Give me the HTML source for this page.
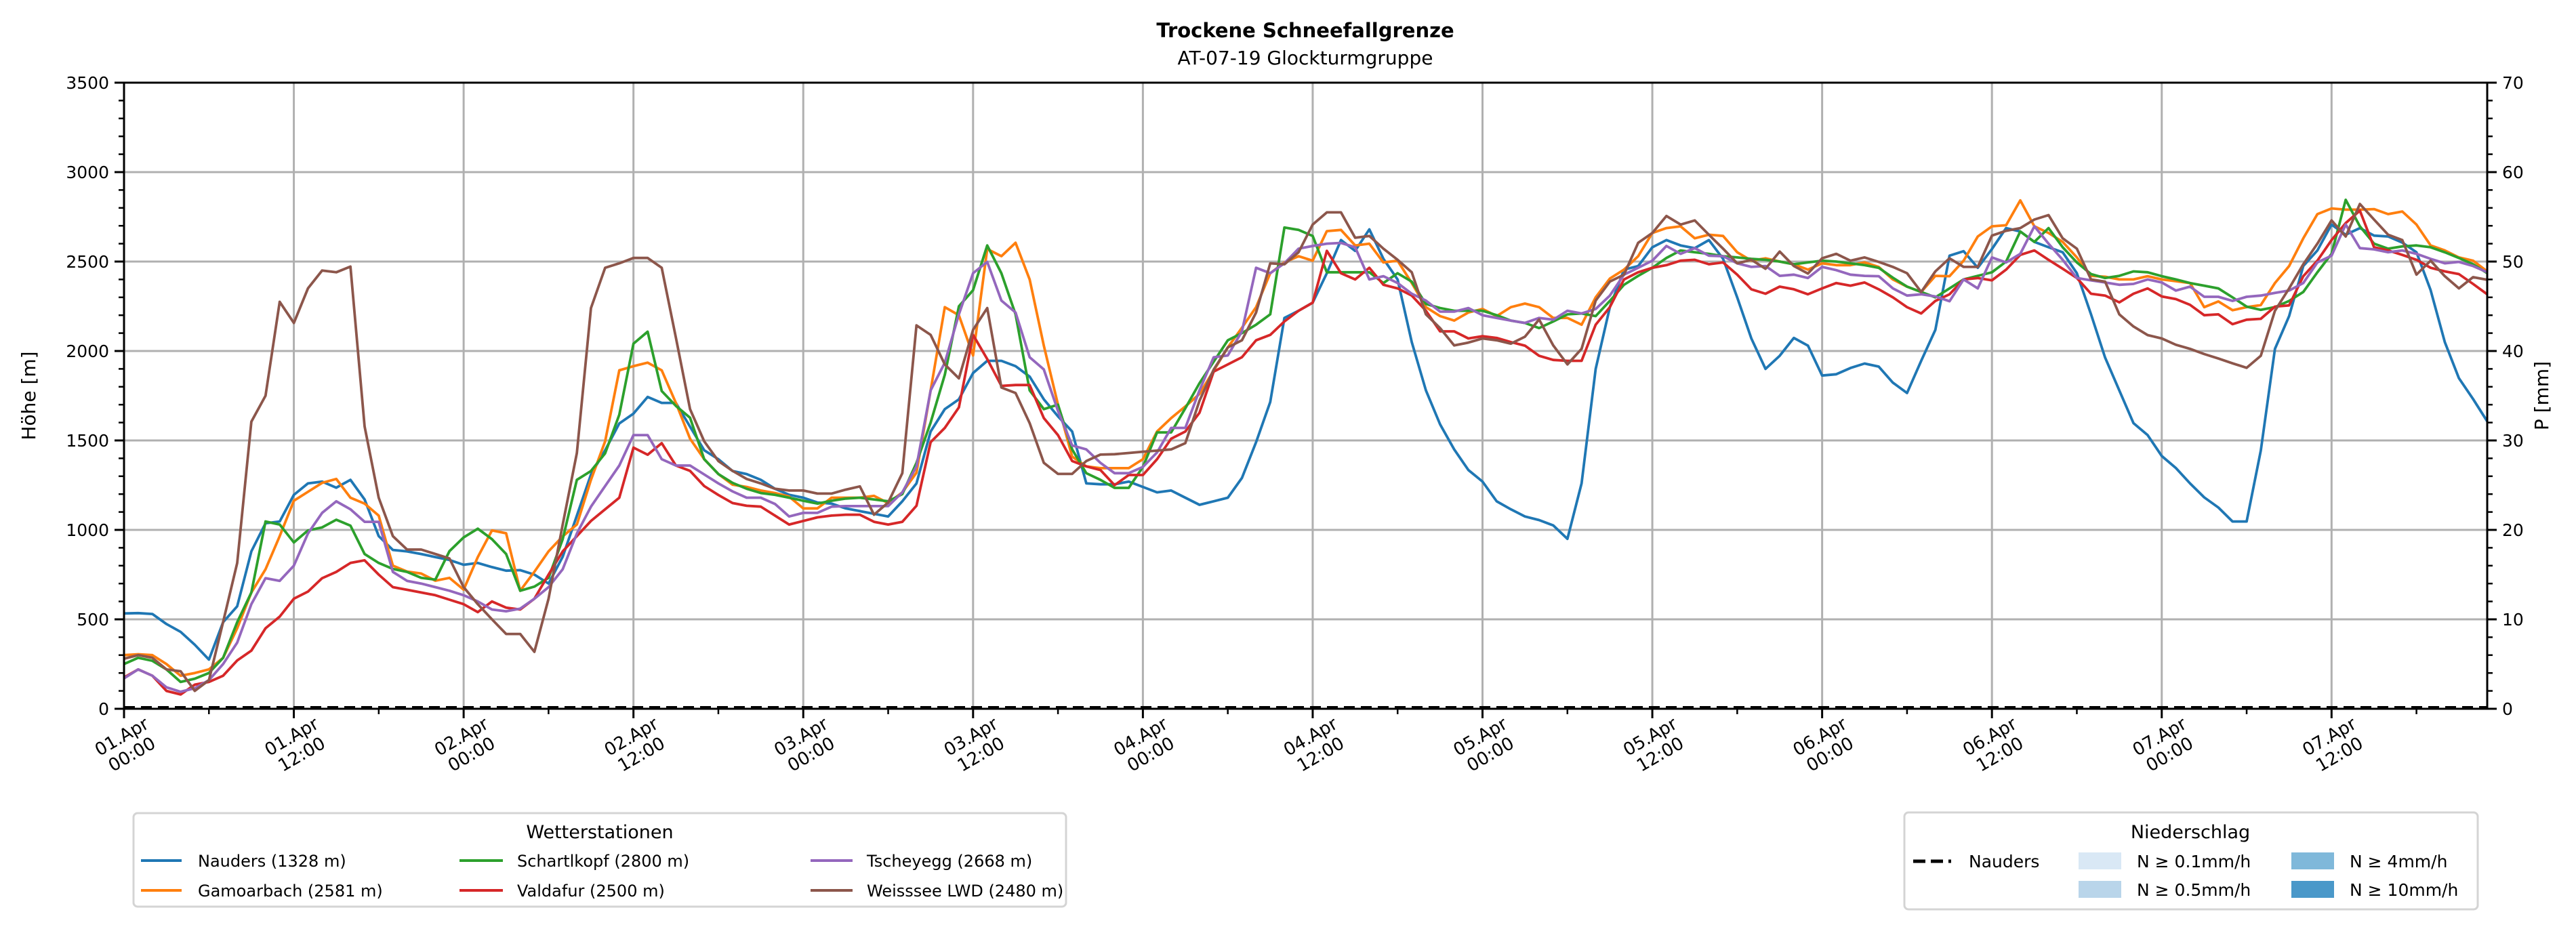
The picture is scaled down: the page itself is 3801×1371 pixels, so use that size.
<!DOCTYPE html>
<html><head><meta charset="utf-8"><style>
html,body{margin:0;padding:0;background:#fff;}
svg{display:block;font-family:"DejaVu Sans","Liberation Sans",sans-serif;}
</style></head><body>
<svg id="chart" width="3801" height="1371" viewBox="0 0 3801 1371" xmlns="http://www.w3.org/2000/svg">
<rect x="0" y="0" width="3801" height="1371" fill="#fff"/>
<text x="1926" y="55" text-anchor="middle" font-size="29" font-weight="bold">Trockene Schneefallgrenze</text>
<text x="1926" y="95" text-anchor="middle" font-size="28">AT-07-19 Glockturmgruppe</text>
<g id="grid"></g>
<g id="series"></g>
<g id="axes"></g>
<text transform="translate(52,584) rotate(-90)" text-anchor="middle" font-size="28">Höhe [m]</text>
<text transform="translate(3760,584) rotate(-90)" text-anchor="middle" font-size="28">P [mm]</text>

<g>
<rect x="197" y="1200" width="1376" height="138" rx="6" fill="#fff" stroke="#d4d4d4" stroke-width="3"/>
<text x="885" y="1237" text-anchor="middle" font-size="27">Wetterstationen</text>
<g font-size="24">
<line x1="208" y1="1270" x2="268" y2="1270" stroke="#1f77b4" stroke-width="4"/>
<text x="292" y="1279">Nauders (1328 m)</text>
<line x1="208" y1="1314" x2="268" y2="1314" stroke="#ff7f0e" stroke-width="4"/>
<text x="292" y="1323">Gamoarbach (2581 m)</text>
<line x1="678" y1="1270" x2="742" y2="1270" stroke="#2ca02c" stroke-width="4"/>
<text x="763" y="1279">Schartlkopf (2800 m)</text>
<line x1="678" y1="1314" x2="742" y2="1314" stroke="#d62728" stroke-width="4"/>
<text x="763" y="1323">Valdafur (2500 m)</text>
<line x1="1196" y1="1270" x2="1258" y2="1270" stroke="#9467bd" stroke-width="4"/>
<text x="1279" y="1279">Tscheyegg (2668 m)</text>
<line x1="1196" y1="1314" x2="1258" y2="1314" stroke="#8c564b" stroke-width="4"/>
<text x="1279" y="1323">Weisssee LWD (2480 m)</text>
</g></g>

<g>
<rect x="2810" y="1199" width="846" height="143" rx="6" fill="#fff" stroke="#d4d4d4" stroke-width="3"/>
<text x="3232" y="1237" text-anchor="middle" font-size="27">Niederschlag</text>
<g font-size="25">
<line x1="2823" y1="1271" x2="2879" y2="1271" stroke="#000" stroke-width="5" stroke-dasharray="18,8"/>
<text x="2905" y="1280">Nauders</text>
<rect x="3067" y="1258" width="63" height="25" fill="#d9e8f5"/>
<text x="3153" y="1280">N ≥ 0.1mm/h</text>
<rect x="3067" y="1300" width="63" height="25" fill="#b9d5ea"/>
<text x="3153" y="1322">N ≥ 0.5mm/h</text>
<rect x="3381" y="1258" width="63" height="25" fill="#7fb8da"/>
<text x="3467" y="1280">N ≥ 4mm/h</text>
<rect x="3381" y="1300" width="63" height="25" fill="#4a98c9"/>
<text x="3467" y="1322">N ≥ 10mm/h</text>
</g></g>
</svg>
<script>
const nauders=[533,535,530,474,430,358,275,484,573,880,1037,1047,1196,1260,1270,1236,1280,1170,965,888,880,865,848,832,805,815,792,772,775,750,700,850,1080,1310,1445,1595,1650,1743,1710,1710,1577,1445,1395,1329,1312,1280,1230,1196,1180,1153,1147,
1120,1105,1090,1075,1160,1260,1550,1675,1730,1877,1945,1945,1915,1857,1730,1635,1550,1260,1255,1255,1270,1240,1210,1220,1180,1140,1160,1180,1290,1490,1715,2185,2225,2270,2435,2620,2560,2680,2515,2400,2050,1780,1590,1450,1335,1270,1160,1115,1075,1055,1025,950,1260,1900,2245,2455,2475,2580,2620,2590,
2575,2620,2515,2300,2070,1900,1973,2073,2030,1863,1870,1905,1930,1913,1823,1765,1945,2118,2533,2558,2465,2570,2687,2668,2610,2580,2552,2435,2205,1963,1780,1597,1530,1413,1346,1260,1182,1125,1047,1047,1443,2012,2195,2475,2562,2707,2650,2687,2645,2640,2606,2552,2340,2050,1848,1732,1607];
const gamoarbach=[300,305,300,250,185,200,220,285,450,650,780,965,1163,1213,1263,1285,1180,1147,1080,800,767,756,716,732,666,848,997,981,660,766,880,964,1030,1280,1495,1892,1915,1935,1892,1710,1510,1395,1312,1253,1240,1220,1206,1186,1120,1120,1180,
1180,1180,1190,1150,1210,1320,1780,2245,2200,1975,2570,2530,2605,2400,2030,1700,1410,1355,1345,1345,1345,1395,1550,1625,1690,1760,1890,2020,2130,2245,2435,2495,2530,2505,2670,2677,2590,2600,2495,2505,2380,2245,2195,2170,2215,2235,2195,2245,2265,2245,2185,2185,2147,2300,2405,2455,2530,2660,2687,2697,
2630,2650,2643,2552,2505,2518,2500,2485,2455,2490,2480,2480,2495,2470,2400,2360,2330,2420,2418,2505,2640,2697,2703,2842,2697,2660,2610,2523,2420,2415,2400,2400,2418,2400,2390,2380,2245,2277,2228,2245,2257,2380,2475,2630,2765,2797,2790,2790,2793,2765,2780,2707,2590,2562,2523,2505,2445];
const schartlkopf=[250,285,268,220,150,168,200,285,484,650,1047,1030,930,997,1014,1057,1024,865,815,782,765,732,722,881,958,1007,948,865,660,683,732,948,1280,1329,1428,1644,2041,2108,1776,1693,1627,1395,1312,1263,1230,1206,1196,1180,1163,1147,1163,
1175,1180,1170,1160,1200,1375,1600,1867,2250,2340,2590,2435,2205,1780,1675,1700,1450,1317,1280,1235,1235,1352,1545,1545,1680,1820,1940,2060,2100,2147,2205,2690,2677,2643,2440,2440,2440,2440,2380,2435,2388,2263,2240,2225,2225,2225,2200,2170,2157,2128,2165,2205,2210,2195,2280,2370,2420,2465,2520,2562,
2552,2543,2530,2523,2515,2510,2500,2485,2495,2505,2500,2490,2480,2465,2410,2360,2330,2300,2350,2400,2420,2440,2500,2668,2610,2687,2580,2495,2430,2408,2420,2445,2440,2418,2400,2380,2365,2350,2300,2248,2230,2245,2280,2330,2440,2543,2845,2697,2600,2572,2585,2590,2580,2552,2520,2485,2435];
const valdafur=[175,220,185,100,80,135,150,185,270,325,450,515,615,655,730,765,815,830,750,680,665,650,635,610,585,540,600,565,555,615,750,880,965,1050,1115,1180,1460,1420,1485,1360,1330,1245,1195,1150,1135,1130,1080,1030,1050,1070,1080,
1085,1085,1045,1030,1045,1135,1490,1570,1685,2090,1955,1805,1810,1810,1625,1530,1385,1355,1335,1250,1307,1307,1395,1510,1550,1655,1885,1925,1965,2060,2090,2165,2225,2270,2560,2435,2400,2465,2370,2350,2310,2225,2110,2110,2070,2083,2073,2050,2030,1973,1950,1945,1945,2147,2245,2400,2440,2465,2480,2505,
2510,2485,2495,2427,2345,2320,2360,2345,2317,2350,2380,2365,2383,2345,2300,2245,2210,2280,2317,2400,2408,2395,2455,2537,2562,2510,2460,2408,2320,2310,2272,2320,2350,2305,2290,2258,2200,2205,2150,2175,2180,2248,2255,2418,2505,2620,2715,2785,2580,2562,2537,2510,2465,2445,2430,2375,2317];
const tscheyegg=[170,220,185,120,95,115,160,250,370,585,730,715,800,980,1095,1160,1115,1045,1045,765,715,700,680,660,635,600,555,545,560,615,680,780,980,1130,1245,1360,1530,1530,1395,1360,1360,1310,1260,1215,1180,1180,1145,1075,1095,1095,1130,
1133,1133,1133,1133,1210,1355,1780,1935,2205,2435,2498,2282,2215,1965,1897,1665,1472,1450,1375,1317,1317,1352,1433,1570,1570,1780,1965,1975,2110,2465,2435,2490,2572,2587,2600,2604,2580,2400,2418,2380,2320,2282,2220,2220,2240,2200,2185,2170,2157,2185,2175,2225,2210,2235,2310,2427,2465,2505,2587,2543,
2575,2533,2530,2490,2470,2475,2420,2427,2408,2470,2452,2427,2420,2418,2350,2310,2317,2305,2278,2400,2350,2523,2495,2543,2697,2600,2510,2408,2395,2383,2370,2375,2400,2383,2338,2360,2303,2303,2280,2303,2310,2325,2338,2380,2495,2533,2707,2575,2568,2552,2562,2543,2515,2490,2498,2475,2440];
const weisssee=[280,300,285,220,210,100,160,485,815,1605,1750,2275,2157,2350,2450,2440,2472,1578,1180,965,890,890,865,840,680,585,500,418,418,318,615,1030,1430,2240,2465,2490,2520,2520,2465,2075,1675,1495,1385,1330,1285,1260,1230,1220,1220,1203,1203,
1225,1243,1085,1153,1317,2143,2090,1925,1847,2118,2240,1796,1765,1597,1375,1313,1313,1385,1421,1423,1430,1437,1443,1450,1485,1722,1896,2020,2060,2215,2490,2485,2552,2707,2775,2775,2633,2643,2572,2510,2440,2205,2128,2031,2047,2070,2060,2041,2080,2176,2031,1925,2012,2282,2388,2427,2605,2660,2755,2707,
2730,2650,2572,2490,2510,2460,2556,2475,2433,2518,2543,2505,2523,2498,2470,2435,2330,2445,2518,2470,2470,2645,2672,2687,2735,2760,2630,2572,2400,2388,2205,2137,2089,2070,2035,2012,1983,1958,1931,1906,1973,2225,2350,2485,2600,2730,2640,2822,2735,2650,2620,2427,2505,2418,2350,2413,2398];
const precipNauders=[0,0,0,0,0,0,0,0,0,0,0,0,0,0,0,0,0,0,0,0,0,0,0,0,0,0,0,0,0,0,0,0,0,0,0,0,0,0,0,0,0,0,0,0,0,0,0,0,0,0,0,0,0,0,0,0,0,0,0,0,0,0,0,0,0,0,0,0,0,0,0,0,0,0,0,0,0,0,0,0,0,0,0,0,0,0,0,0,0,0,0,0,0,0,0,0,0,0,0,0,0,0,0,0,0,0,0,0,0,0,0,0,0,0,0,0,0,0,0,0,0,0,0,0,0,0,0,0,0,0,0,0,0,0,0,0,0,0,0,0,0,0,0,0,0,0,0,0,0,0,0,0,0,0,0,0,0,0,0,0,0,0,0,0,0,0,0,0];
const yTicks=[0,500,1000,1500,2000,2500,3000,3500];
const y2Ticks=[0,10,20,30,40,50,60,70];
const xTickHours=[0,12,24,36,48,60,72,84,96,108,120,132,144,156];
const xTickDays=["01.Apr","01.Apr","02.Apr","02.Apr","03.Apr","03.Apr","04.Apr","04.Apr","05.Apr","05.Apr","06.Apr","06.Apr","07.Apr","07.Apr"];
const xTickTimes=["00:00","12:00","00:00","12:00","00:00","12:00","00:00","12:00","00:00","12:00","00:00","12:00","00:00","12:00"];

const L=183,R=3670,T=122,B=1046,HMAX=167,YMAX=3500,PMAX=70;
const NS="http://www.w3.org/2000/svg";
function xS(h){return L+h/HMAX*(R-L);}
function yS(v){return B-v/YMAX*(B-T);}
function y2S(p){return B-p/PMAX*(B-T);}
function mk(tag,attrs,parent){const e=document.createElementNS(NS,tag);for(const k in attrs)e.setAttribute(k,attrs[k]);parent.appendChild(e);return e;}
const grid=document.getElementById('grid'),axes=document.getElementById('axes'),ser=document.getElementById('series');

yTicks.forEach(v=>{
  const g=mk('line',{x1:L,x2:R,y1:yS(v),y2:yS(v),stroke:'#b0b0b0','stroke-width':3},grid);
  
  
  const t=mk('line',{x1:L-14,x2:L,y1:yS(v),y2:yS(v),stroke:'#000','stroke-width':3},axes);
  
  
  const lb=mk('text',{x:L-22,y:yS(v)+9,'text-anchor':'end','font-size':25},axes);
  lb.textContent=v;
  
  
});
for(let v=100;v<YMAX;v+=100){if(v%500===0)continue;
  const t=mk('line',{x1:L-8,x2:L,y1:yS(v),y2:yS(v),stroke:'#000','stroke-width':2.5},axes);
  
  
}
y2Ticks.forEach(p=>{
  const t=mk('line',{x1:R,x2:R+14,y1:y2S(p),y2:y2S(p),stroke:'#000','stroke-width':3},axes);
  
  
  const lb=mk('text',{x:R+22,y:y2S(p)+9,'font-size':25},axes);
  lb.textContent=p;
  
  
});
for(let p=2;p<PMAX;p+=2){if(p%10===0)continue;
  const t=mk('line',{x1:R,x2:R+8,y1:y2S(p),y2:y2S(p),stroke:'#000','stroke-width':2.5},axes);
  
  
}
xTickHours.forEach((h,i)=>{
  const g=mk('line',{x1:xS(h),x2:xS(h),y1:T,y2:B,stroke:'#b0b0b0','stroke-width':3},grid);
  
  
  const t=mk('line',{x1:xS(h),x2:xS(h),y1:B,y2:B+14,stroke:'#000','stroke-width':3},axes);
  
  
  const lb=mk('text',{transform:`translate(${xS(h)+4},1100) rotate(-30)`,'text-anchor':'middle','font-size':26},axes);
  
  
  const a=mk('tspan',{x:0,y:-6},lb);a.textContent=xTickDays[i];
  const b=mk('tspan',{x:0,y:24},lb);b.textContent=xTickTimes[i];
});
for(let h=6;h<HMAX;h+=12){
  const t=mk('line',{x1:xS(h),x2:xS(h),y1:B,y2:B+8,stroke:'#000','stroke-width':2.5},axes);
  
  
}
const frame=mk('rect',{x:L,y:T,width:R-L,height:B-T,fill:'none',stroke:'#000','stroke-width':3},axes);



function line(vals,color,name){
  const d=vals.map((v,h)=>(h?'L':'M')+xS(h).toFixed(1)+','+yS(v).toFixed(1)).join('');
  const p=mk('path',{d:d,fill:'none',stroke:color,'stroke-width':3.8,'stroke-linejoin':'round'},ser);
  
  
}
line(nauders,'#1f77b4','line-nauders');
line(gamoarbach,'#ff7f0e','line-gamoarbach');
line(schartlkopf,'#2ca02c','line-schartlkopf');
line(valdafur,'#d62728','line-valdafur');
line(tscheyegg,'#9467bd','line-tscheyegg');
line(weisssee,'#8c564b','line-weisssee');
const pd=precipNauders.map((p,h)=>(h?'L':'M')+xS(h).toFixed(1)+','+(y2S(p)-2).toFixed(1)).join('');
const pp=mk('path',{d:pd,fill:'none',stroke:'#000','stroke-width':4,'stroke-dasharray':'16,9'},ser);


</script>
</body></html>
